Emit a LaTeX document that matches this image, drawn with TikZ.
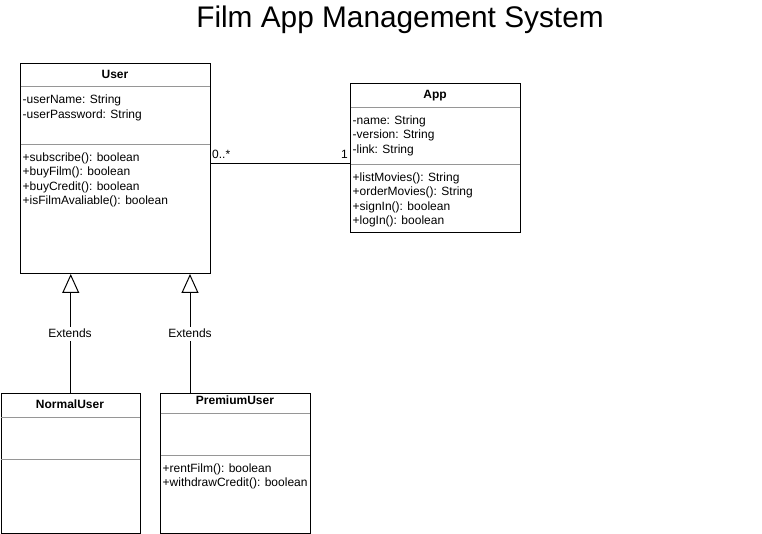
\documentclass[tikz,border=0pt]{standalone}
\usepackage{fontspec}
\setmainfont{Liberation Sans}
\usetikzlibrary{arrows.meta}

\definecolor{sepgray}{RGB}{150,150,150}

\tikzset{
  classbox/.style={draw, line width=1pt, anchor=north west, inner sep=0pt},
  classname/.style={anchor=base, inner sep=0pt, font=\fontsize{12}{14.4}\selectfont\bfseries},
  member/.style={anchor=base west, inner sep=0pt, font=\fontsize{12}{14.4}\selectfont},
  sepline/.style={draw=sepgray, line width=1pt},
  extends/.style={line width=1pt, -{Triangle[open, length=19pt, width=17pt]}},
  edgelabel/.style={fill=white, inner xsep=1pt, inner ysep=0pt, minimum height=14pt, font=\fontsize{12}{14.4}\selectfont},
  multlabel/.style={inner sep=0pt, font=\fontsize{12}{14.4}\selectfont},
}

\begin{document}
\begin{tikzpicture}[x=1pt,y=-1pt]
\useasboundingbox (0,0) rectangle (762,534);

% Title
\node[anchor=base, inner sep=0pt, font=\fontsize{29.8}{35}\selectfont] (title) at (400,28) {Film App Management System};

% Class: User
\node[classbox, minimum width=190pt, minimum height=210pt] (user) at (20,63) {};
\node[classname] (user-name) at (115,78.7) {User};
\draw[sepline] (20.5,87) -- (209.5,87);
\draw[sepline] (20.5,144.3) -- (209.5,144.3);
\foreach \txt [count=\i from 0] in {-userName: String, -userPassword: String}
  \node[member] (user-attr-\i) at (22.5,104+14.6*\i) {\txt};
\foreach \txt [count=\i from 0] in {+subscribe(): boolean, +buyFilm(): boolean, +buyCredit(): boolean, +isFilmAvaliable(): boolean}
  \node[member] (user-op-\i) at (22.5,161.5+14.4*\i) {\txt};

% Class: App
\node[classbox, minimum width=170pt, minimum height=149pt] (app) at (350,83.5) {};
\node[classname] (app-name) at (435,99) {App};
\draw[sepline] (350.5,107.7) -- (519.5,107.7);
\draw[sepline] (350.5,164.3) -- (519.5,164.3);
\foreach \txt [count=\i from 0] in {-name: String, -version: String, -link: String}
  \node[member] (app-attr-\i) at (352.5,124.5+14.4*\i) {\txt};
\foreach \txt [count=\i from 0] in {+listMovies(): String, +orderMovies(): String, +signIn(): boolean, +logIn(): boolean}
  \node[member] (app-op-\i) at (352.5,181.5+14.4*\i) {\txt};

% Class: NormalUser
\node[classbox, minimum width=139.5pt, minimum height=140pt] (normal) at (0.5,393) {};
\node[classname] (normal-name) at (70,408.5) {NormalUser};
\draw[sepline] (1,417.3) -- (139.5,417.3);
\draw[sepline] (1,459.3) -- (139.5,459.3);

% Class: PremiumUser
\node[classbox, minimum width=150pt, minimum height=140pt] (premium) at (160,393) {};
\node[classname] (premium-name) at (235,404) {PremiumUser};
\draw[sepline] (160.5,413.3) -- (309.5,413.3);
\draw[sepline] (160.5,455.3) -- (309.5,455.3);
\foreach \txt [count=\i from 0] in {+rentFilm(): boolean, +withdrawCredit(): boolean}
  \node[member] (premium-op-\i) at (162.5,472.5+14.4*\i) {\txt};

% Association User -- App
\coordinate (assoc) at (0,163.3);
\draw[line width=1pt] (user.east |- assoc) -- (app.west |- assoc);
\node[multlabel, anchor=base west] (mult-user) at (212,158.5) {0..*};
\node[multlabel, anchor=base east] (mult-app) at (348,158.5) {1};

% Generalisations
\draw[extends] (normal.north) -- (normal.north |- user.south);
\node[edgelabel] (ext-normal) at (70,333.5) {Extends};
\coordinate (prem-top) at ([xshift=30pt]premium.north west);
\draw[extends] (prem-top) -- (prem-top |- user.south);
\node[edgelabel] (ext-premium) at (190,333.5) {Extends};

\end{tikzpicture}
\end{document}
